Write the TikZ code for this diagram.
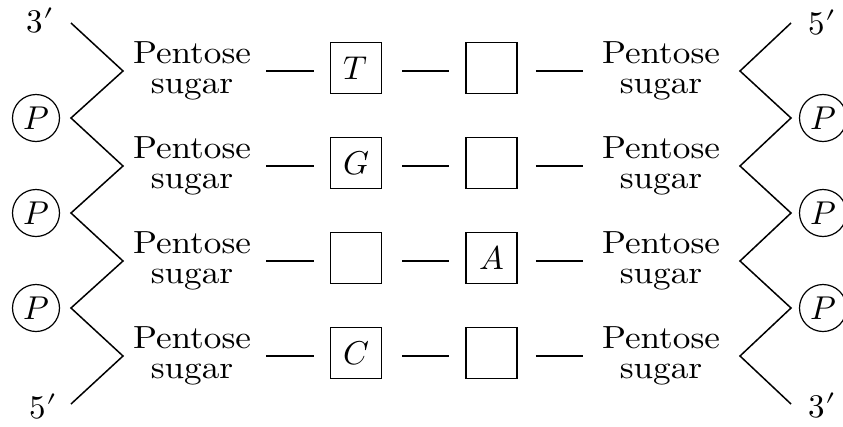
\documentclass[tikz,border=0pt]{standalone}
\usepackage{unicode-math}
\setmainfont{lmroman10}[Extension=.otf, UprightFont=*-regular, ItalicFont=*-italic]
\setmathfont{latinmodern-math.otf}
\newcommand{\sx}[1]{\scalebox{1.1}[1]{#1}}
\begin{document}
\begin{tikzpicture}[x=1pt,y=-1pt,
  sugar/.style={inner sep=0pt, minimum width=120pt, align=center, font=\fontsize{32}{30}\selectfont},
  basebox/.style={draw, line width=1.5pt, minimum size=51pt, inner sep=0pt, font=\fontsize{33}{33}\selectfont},
  phos/.style={draw, circle, line width=1.2pt, minimum size=47pt, inner sep=0pt, font=\fontsize{33}{33}\selectfont},
  bond/.style={line width=1.5pt},
  endlab/.style={inner sep=0pt, font=\fontsize{33}{33}\selectfont}]
\useasboundingbox (0,0) rectangle (843,426);
% sugar nodes
\foreach \i/\y in {1/71,2/166,3/261,4/356}{
  \node[sugar] (L\i) at (192,\y) {\sx{Pentose}\\\sx{sugar}};
  \node[sugar] (R\i) at (661,\y) {\sx{Pentose}\\\sx{sugar}};
}
% base boxes
\node[basebox] (A1) at (356,68) {$T$};
\node[basebox] (B1) at (491.5,68) {};
\node[basebox] (A2) at (356,163) {$G$};
\node[basebox] (B2) at (491.5,163) {};
\node[basebox] (A3) at (356,258) {};
\node[basebox] (B3) at (491.5,258) {$A$};
\node[basebox] (A4) at (356,353) {$C$};
\node[basebox] (B4) at (491.5,353) {};
% bonds
\foreach \i in {1,2,3,4}{
  \draw[bond, shorten <=14pt, shorten >=16pt] (L\i.east) -- (L\i.east -| A\i.west);
  \draw[bond, shorten <=20pt, shorten >=16pt] (A\i.east |- L\i.east) -- (L\i.east -| B\i.west);
  \draw[bond, shorten <=18pt, shorten >=18pt] (B\i.east |- L\i.east) -- (R\i.west);
}
% phosphates
\foreach \i/\y in {1/118,2/213,3/308}{
  \node[phos] (PL\i) at (36,\y) {$P$};
  \node[phos] (PR\i) at (823,\y) {$P$};
}
% backbones
\draw[bond] (71,23) -- (123,71) -- (71,118) -- (123,166) -- (71,213) -- (123,261) -- (71,308) -- (123,356) -- (71,404);
\draw[bond] (791,23) -- (740,71) -- (791,118) -- (740,166) -- (791,213) -- (740,261) -- (791,308) -- (740,356) -- (791,404);
% end labels
\node[endlab] (lt) at (40,21) {$3\prime$};
\node[endlab] (lb) at (43,407) {$5\prime$};
\node[endlab] (rt) at (822,23) {$5\prime$};
\node[endlab] (rb) at (822,406) {$3\prime$};
\end{tikzpicture}
\end{document}
